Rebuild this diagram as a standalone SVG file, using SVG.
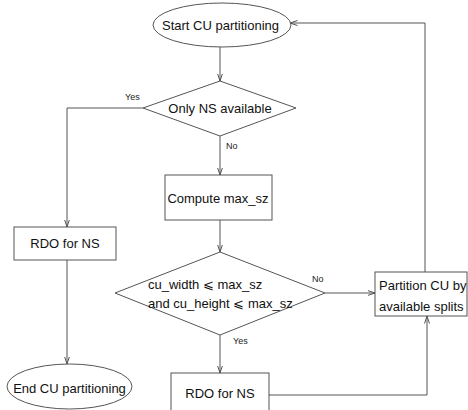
<svg xmlns="http://www.w3.org/2000/svg" width="468" height="410" viewBox="0 0 468 410">
<defs>
<style>
.shape{fill:#fff;stroke:#555;stroke-width:1}
.t{font-family:"Liberation Sans",Arial,sans-serif;font-size:13px;fill:#111}
.c{text-anchor:middle;dominant-baseline:central}
.l{font-family:"Liberation Sans",Arial,sans-serif;font-size:9px;fill:#222}
.conn{fill:none;stroke:#555;stroke-width:1}
</style>
<marker id="arr" viewBox="0 0 8 6" markerWidth="8" markerHeight="6" refX="7.5" refY="3" orient="auto" markerUnits="userSpaceOnUse">
<path d="M0,0.5 L7.5,3 L0,5.5" fill="none" stroke="#555" stroke-width="1"/>
</marker>
</defs>
<rect width="468" height="410" fill="#fff"/>
<g id="connectors">
<path class="conn" d="M220,47 L220,81" marker-end="url(#arr)"/>
<path class="conn" d="M143,108 L67,108 L67,227" marker-end="url(#arr)"/>
<path class="conn" d="M220,136 L220,175" marker-end="url(#arr)"/>
<path class="conn" d="M220,220 L220,252" marker-end="url(#arr)"/>
<path class="conn" d="M325,293 L375,293" marker-end="url(#arr)"/>
<path class="conn" d="M220,335 L220,373" marker-end="url(#arr)"/>
<path class="conn" d="M67,260 L67,364" marker-end="url(#arr)"/>
<path class="conn" d="M269,395 L427,395 L427,316" marker-end="url(#arr)"/>
<path class="conn" d="M425,272 L425,23 L290,23" marker-end="url(#arr)"/>
<text class="l" x="125" y="100">Yes</text>
<text class="l" x="226" y="149">No</text>
<text class="l" x="312" y="282">No</text>
<text class="l" x="233" y="344">Yes</text>
</g>
<g id="start">
<ellipse class="shape" cx="222" cy="25" rx="69" ry="22"/>
<text class="t c" x="220.5" y="25">Start CU partitioning</text>
</g>
<g id="only-ns">
<polygon class="shape" points="220,81 296,108 220,136 143,108"/>
<text class="t c" x="220" y="108">Only NS available</text>
</g>
<g id="compute">
<rect class="shape" x="165" y="175" width="107" height="45"/>
<text class="t c" x="218" y="198">Compute max_sz</text>
</g>
<g id="cond">
<polygon class="shape" points="220,252 325,293 220,335 115,293"/>
<text class="t" x="148" y="289">cu_width ⩽ max_sz</text>
<text class="t" x="148" y="308">and cu_height ⩽ max_sz</text>
</g>
<g id="partition">
<rect class="shape" x="375" y="272" width="92" height="44"/>
<text class="t" x="379" y="290">Partition CU by</text>
<text class="t" x="379" y="311">available splits</text>
</g>
<g id="rdo-left">
<rect class="shape" x="14" y="227" width="102" height="33"/>
<text class="t c" x="65" y="243">RDO for NS</text>
</g>
<g id="end">
<ellipse class="shape" cx="69.5" cy="386.5" rx="62.5" ry="22.5"/>
<text class="t c" x="69.5" y="388">End CU partitioning</text>
</g>
<g id="rdo-bottom">
<rect class="shape" x="171" y="373" width="98" height="50"/>
<text class="t c" x="220" y="393">RDO for NS</text>
</g>
</svg>
